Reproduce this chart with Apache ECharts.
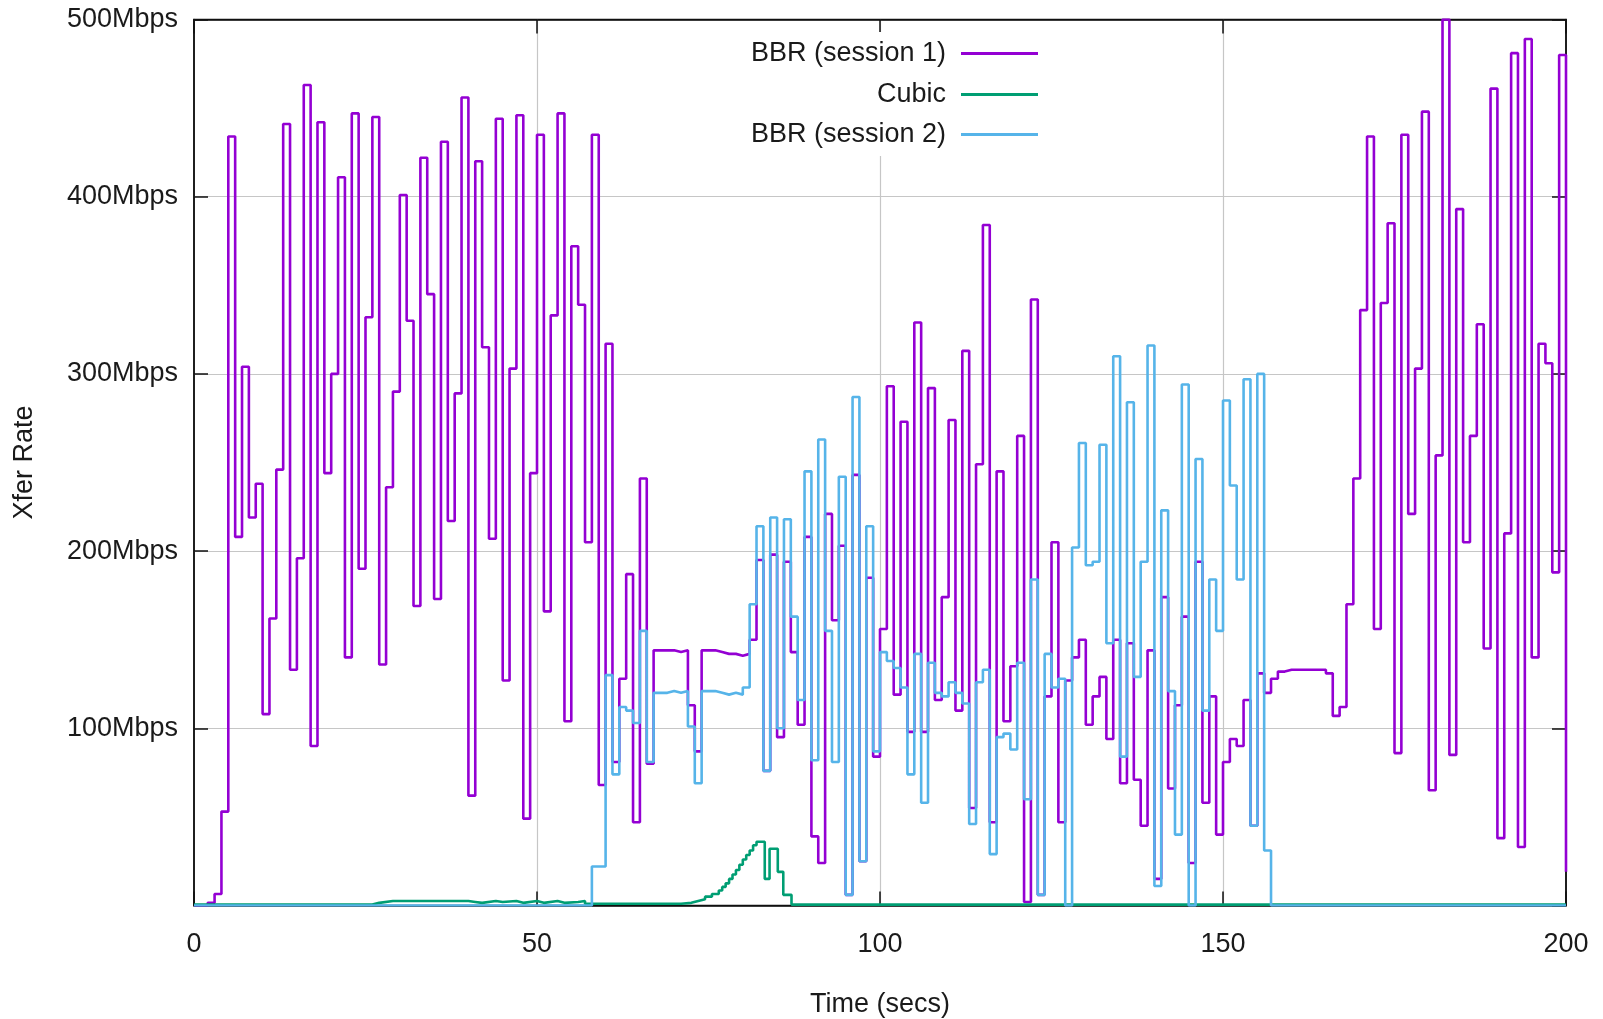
<!DOCTYPE html>
<html>
<head>
<meta charset="utf-8">
<style>
  html, body { margin: 0; padding: 0; background: #fff; }
  #chart { width: 1603px; height: 1019px; }
</style>
<script src="https://cdn.jsdelivr.net/npm/echarts@6/dist/echarts.min.js"></script>
</head>
<body>
<div id="chart"></div>
<script>
// one sample per second, value held until the next sample (gnuplot "steps")
var bbr1Rates = [
  0, 0, 1.5, 6.5, 53, 434, 208, 304, 219, 238,
  108, 162, 246, 441, 133, 196, 463, 90, 442, 244,
  300, 411, 140, 447, 190, 332, 445, 136, 236, 290,
  401, 330, 169, 422, 345, 173, 431, 217, 289, 456,
  62, 420, 315, 207, 444, 127, 303, 446, 49, 244,
  435, 166, 333, 447, 104, 372, 339, 205, 435, 68,
  317, 81, 128, 187, 47, 241, 80, 144, 144, 144,
  143, 144, 113, 87, 144, 144, 143, 142, 142, 141,
  142, 150, 195, 76, 198, 95, 194, 143, 102, 208,
  39, 24, 221, 161, 203, 6, 243, 25, 185, 84,
  156, 293, 119, 273, 98, 329, 98, 292, 116, 174,
  274, 110, 313, 55, 249, 384, 47, 245, 104, 135,
  265, 2, 342, 6, 118, 205, 47, 127, 140, 150,
  102, 118, 129, 94, 150, 69, 148, 71, 45, 144,
  15, 174, 66, 113, 163, 24, 194, 58, 118, 40,
  81, 94, 90, 116, 45, 131, 120, 128, 132, 133,
  133, 133, 133, 133, 133, 131, 107, 112, 170, 241,
  336, 434, 156, 340, 385, 86, 435, 221, 303, 448,
  65, 254, 500, 85, 393, 205, 265, 328, 145, 461,
  38, 210, 481, 33, 489, 140, 317, 306, 188, 480,
  19
];

var bbr2Rates = [
  0, 0, 0, 0, 0, 0, 0, 0, 0, 0,
  0, 0, 0, 0, 0, 0, 0, 0, 0, 0,
  0, 0, 0, 0, 0, 0, 0, 0, 0, 0,
  0, 0, 0, 0, 0, 0, 0, 0, 0, 0,
  0, 0, 0, 0, 0, 0, 0, 0, 0, 0,
  0, 0, 0, 0, 0, 0, 0, 0, 22, 22,
  130, 74, 112, 110, 103, 155, 81, 120, 120, 121,
  120, 121, 101, 69, 121, 121, 120, 119, 120, 119,
  123, 170, 214, 76, 219, 100, 218, 163, 116, 245,
  82, 263, 155, 81, 242, 6, 287, 25, 214, 87,
  143, 138, 134, 123, 74, 142, 58, 137, 120, 118,
  126, 120, 114, 46, 126, 133, 29, 95, 97, 88,
  137, 60, 184, 6, 142, 123, 128, 0, 202, 261,
  192, 194, 260, 148, 310, 84, 284, 129, 194, 316,
  11, 223, 121, 40, 294, 0, 252, 110, 184, 155,
  285, 237, 184, 297, 45, 300, 31, 0, 0, 0,
  0, 0, 0, 0, 0, 0, 0, 0, 0, 0,
  0, 0, 0, 0, 0, 0, 0, 0, 0, 0,
  0, 0, 0, 0, 0, 0, 0, 0, 0, 0,
  0, 0, 0, 0, 0, 0, 0, 0, 0, 0,
  0
];

// cubic is sampled irregularly: change points and the rate from there on
var cubicTimes = [0, 26, 27, 29, 40, 41, 42, 44, 45, 47, 48, 50, 51, 53, 54, 56, 57, 71,
  72.5, 73.5, 74.5, 75.5, 76.5, 77, 77.5, 78, 78.5, 79, 79.5, 80, 80.5, 81, 81.5, 82,
  83.2, 83.9, 85.1, 85.9, 87.1, 200];
var cubicRates = [0.5, 1.5, 2.5, 2.5, 2, 1.5, 2.5, 2, 2.5, 1.5, 2.5, 1.5, 2.5, 1.5, 2, 2.5, 1, 1.5,
  2.5, 3.5, 5, 6.5, 8.5, 10.5, 12.5, 15, 17.5, 20, 23, 26, 28.5, 31, 34, 36,
  15, 32, 19, 6, 0.5, 0.5];

var seriesNames = ['BBR (session 1)', 'Cubic', 'BBR (session 2)'];
var seriesColors = ['#9400d3', '#009e73', '#56b4e9'];
var timeTicks = [0, 50, 100, 150, 200];
var rateTicks = [0, 100, 200, 300, 400, 500];

var font = '"Liberation Sans", Arial, Helvetica, sans-serif';
var ink = '#1a1a1a';

function perSecond(rates) {
  return rates.map(function(v, i) { return [i, v]; });
}
function pairs(ts, vs) {
  return ts.map(function(t, i) { return [t, vs[i]]; });
}

var chart = echarts.init(document.getElementById('chart'), null, { renderer: 'canvas' });

function ticks() {
  return { show: true, inside: true, length: 14, lineStyle: { color: '#111', width: 1.5 } };
}
function border() {
  return { show: true, onZero: false, lineStyle: { color: '#111', width: 1.5 } };
}
function gridLines() {
  return { show: true, showMinLine: false, showMaxLine: false, lineStyle: { color: '#c6c6c6', width: 1.2 } };
}

function legendRow(name, top) {
  return {
    data: [name],
    right: 563,
    top: top,
    orient: 'vertical',
    align: 'right',
    icon: 'rect',
    itemWidth: 77,
    itemHeight: 3,
    selectedMode: false,
    backgroundColor: '#fff',
    padding: [8, 2, 8, 10],
    textStyle: { fontSize: 27, color: ink, fontFamily: font, padding: [0, 10, 0, 0] }
  };
}

chart.setOption({
  animation: false,
  backgroundColor: '#fff',
  textStyle: { fontFamily: font },
  grid: {
    left: 194, right: 37, top: 19.5, bottom: 113.5,
    outerBoundsMode: 'none',
    show: true, borderColor: '#111', borderWidth: 1.5
  },
  legend: [
    legendRow(seriesNames[0], 32),
    legendRow(seriesNames[1], 73),
    legendRow(seriesNames[2], 113)
  ],
  xAxis: [{
    type: 'value',
    min: timeTicks[0], max: timeTicks[timeTicks.length - 1], interval: 50,
    position: 'bottom',
    axisLine: border(),
    axisTick: ticks(),
    axisLabel: { fontSize: 27, color: ink, margin: 26, fontFamily: font },
    splitLine: gridLines(),
    name: 'Time (secs)',
    nameLocation: 'middle',
    nameGap: 86,
    nameTextStyle: { fontSize: 27, color: ink, fontFamily: font }
  }, {
    type: 'value',
    min: timeTicks[0], max: timeTicks[timeTicks.length - 1], interval: 50,
    position: 'top',
    axisLine: border(),
    axisTick: ticks(),
    axisLabel: { show: false },
    splitLine: { show: false }
  }],
  yAxis: [{
    type: 'value',
    min: rateTicks[0], max: rateTicks[rateTicks.length - 1], interval: 100,
    position: 'left',
    axisLine: border(),
    axisTick: ticks(),
    axisLabel: {
      fontSize: 27, color: ink, margin: 16, fontFamily: font,
      formatter: function(v) { return v === 0 ? '' : v + 'Mbps'; }
    },
    splitLine: gridLines(),
    name: 'Xfer Rate',
    nameLocation: 'middle',
    nameGap: 156,
    nameRotate: 90,
    nameTextStyle: { fontSize: 27, color: ink, fontFamily: font }
  }, {
    type: 'value',
    min: rateTicks[0], max: rateTicks[rateTicks.length - 1], interval: 100,
    position: 'right',
    axisLine: border(),
    axisTick: ticks(),
    axisLabel: { show: false },
    splitLine: { show: false }
  }],
  series: [{
    name: seriesNames[0],
    type: 'line',
    step: 'end',
    showSymbol: false,
    color: seriesColors[0],
    lineStyle: { color: seriesColors[0], width: 2.6 },
    data: perSecond(bbr1Rates)
  }, {
    name: seriesNames[1],
    type: 'line',
    step: 'end',
    showSymbol: false,
    color: seriesColors[1],
    lineStyle: { color: seriesColors[1], width: 2.6 },
    data: pairs(cubicTimes, cubicRates)
  }, {
    name: seriesNames[2],
    type: 'line',
    step: 'end',
    showSymbol: false,
    color: seriesColors[2],
    lineStyle: { color: seriesColors[2], width: 2.6 },
    data: perSecond(bbr2Rates)
  }]
});
window.addEventListener('resize', function() { chart.resize(); });
</script>
</body>
</html>
